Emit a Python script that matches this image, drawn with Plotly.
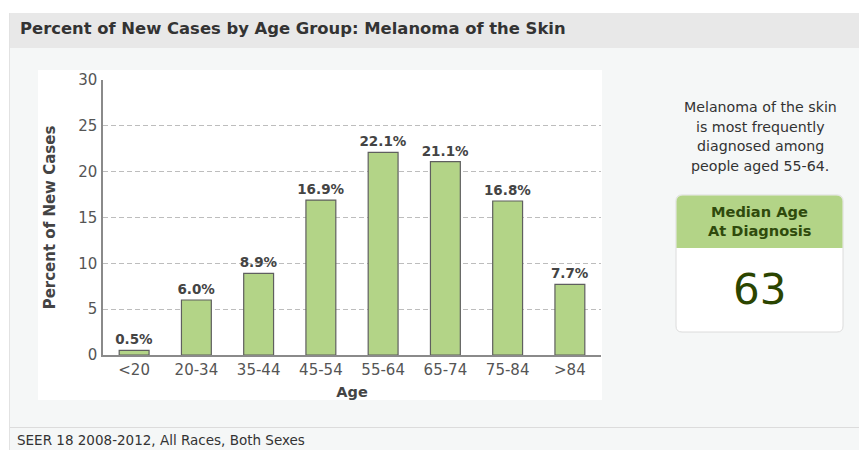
import plotly.graph_objects as go

age_groups = ["<20", "20-34", "35-44", "45-54", "55-64", "65-74", "75-84", ">84"]
percent_new_cases = [0.5, 6.0, 8.9, 16.9, 22.1, 21.1, 16.8, 7.7]
bar_labels = ["0.5%", "6.0%", "8.9%", "16.9%", "22.1%", "21.1%", "16.8%", "7.7%"]
y_ticks = [0, 5, 10, 15, 20, 25, 30]
title_text = "Percent of New Cases by Age Group: Melanoma of the Skin"
side_lines = ["Melanoma of the skin", "is most frequently", "diagnosed among", "people aged 55-64."]
median_label = ["Median Age", "At Diagnosis"]
median_age = "63"
footer_text = "SEER 18 2008-2012, All Races, Both Sexes"

W, H = 859, 450
PL, PR, PT, PB = 103, 601, 80, 355
FONT = "DejaVu Sans"


def px(x):
    return (x - PL) / (PR - PL)


def py(y):
    return (PB - y) / (PB - PT)


def rect(x0, y0, x1, y1, fill, line=None, lw=0):
    return dict(type="rect", xref="paper", yref="paper", layer="below",
                x0=px(x0), x1=px(x1), y0=py(y1), y1=py(y0),
                fillcolor=fill, line=dict(color=line or fill, width=lw))


def rpath(x0, y0, x1, y1, r, top=True, bottom=True):
    def P(x, y):
        return f"{px(x)},{py(y)}"
    rt = r if top else 0
    rb = r if bottom else 0
    d = f"M {P(x0 + rt, y0)} L {P(x1 - rt, y0)} "
    d += f"Q {P(x1, y0)} {P(x1, y0 + rt)} " if rt else ""
    d += f"L {P(x1, y1 - rb)} "
    d += f"Q {P(x1, y1)} {P(x1 - rb, y1)} " if rb else ""
    d += f"L {P(x0 + rb, y1)} "
    d += f"Q {P(x0, y1)} {P(x0, y1 - rb)} " if rb else ""
    d += f"L {P(x0, y0 + rt)} "
    d += f"Q {P(x0, y0)} {P(x0 + rt, y0)} " if rt else ""
    return d + "Z"


fig = go.Figure(go.Bar(
    x=age_groups, y=percent_new_cases, text=bar_labels,
    textposition="outside", cliponaxis=False, constraintext="none",
    textfont=dict(family=FONT, size=13.5, color="#444444", weight="bold"),
    marker=dict(color="#b3d487", line=dict(color="#5f5f5f", width=1.2)),
    width=0.48, hoverinfo="skip",
))

shapes = [
    rect(9, 48, W, 427, "#f5f7f7"),
    rect(9, 13, W, 48, "#e8e8e8"),
    rect(9, 427, W, H, "#f5f7f7"),
    dict(type="line", xref="paper", yref="paper", layer="below",
         x0=px(9), x1=px(W), y0=py(427.5), y1=py(427.5), line=dict(color="#dcdcdc", width=1)),
    dict(type="line", xref="paper", yref="paper", layer="below",
         x0=px(9.5), x1=px(9.5), y0=py(13), y1=py(H), line=dict(color="#e2e2e2", width=1)),
    rect(38, 70, 602, 400, "#ffffff"),
    dict(type="path", xref="paper", yref="paper", layer="below",
         path=rpath(676, 195, 843, 332, 6), fillcolor="#ffffff",
         line=dict(color="#dcdcdc", width=1)),
    dict(type="path", xref="paper", yref="paper", layer="below",
         path=rpath(676.5, 195.5, 842.5, 248, 6, top=True, bottom=False), fillcolor="#b3d487",
         line=dict(color="#b3d487", width=0)),
]

ann = []
ann.append(dict(text=f"<b>{title_text}</b>", x=px(18), y=py(29), xanchor="left", yanchor="middle",
                font=dict(family=FONT, size=16.4, color="#333333")))
for i, t in enumerate(side_lines):
    ann.append(dict(text=t, x=px(760), y=py(107 + i * 19.6), xanchor="center", yanchor="middle",
                    font=dict(family=FONT, size=14.2, color="#333333")))
for i, t in enumerate(median_label):
    ann.append(dict(text=f"<b>{t}</b>", x=px(759.5), y=py(211 + i * 19), xanchor="center", yanchor="middle",
                    font=dict(family=FONT, size=14.6, color="#2f4a0c")))
ann.append(dict(text=median_age, x=px(759.5), y=py(289), xanchor="center", yanchor="middle",
                font=dict(family=FONT, size=42, color="#2b4500")))
ann.append(dict(text=footer_text, x=px(15), y=py(440), xanchor="left", yanchor="middle",
                font=dict(family=FONT, size=13.5, color="#333333")))
for a in ann:
    a.update(xref="paper", yref="paper", showarrow=False)

fig.update_layout(
    width=W, height=H,
    margin=dict(l=PL, r=W - PR, t=PT, b=H - PB, pad=0),
    paper_bgcolor="#ffffff", plot_bgcolor="rgba(0,0,0,0)",
    showlegend=False, bargap=0.52,
    shapes=shapes, annotations=ann,
    font=dict(family=FONT, color="#555555"),
)
fig.update_xaxes(
    showline=True, linecolor="#8a8a8a", linewidth=1.5, ticks="", showgrid=False,
    tickfont=dict(family=FONT, size=15, color="#555555"),
    title=dict(text="<b>Age</b>", font=dict(family=FONT, size=14.5, color="#444444"), standoff=9),
    fixedrange=True,
)
fig.update_yaxes(
    range=[0, 30], tickvals=y_ticks, showline=True, linecolor="#8a8a8a", linewidth=1.5,
    ticks="", showgrid=True, gridcolor="#bdbdbd", griddash="5px,3px", gridwidth=1,
    zeroline=False, tickfont=dict(family=FONT, size=15, color="#555555"), ticklabelstandoff=1,
    title=dict(text="<b>Percent of New Cases</b>", font=dict(family=FONT, size=15, color="#444444"), standoff=19),
    fixedrange=True,
)

fig.write_html("out.html", config={"displayModeBar": False})
